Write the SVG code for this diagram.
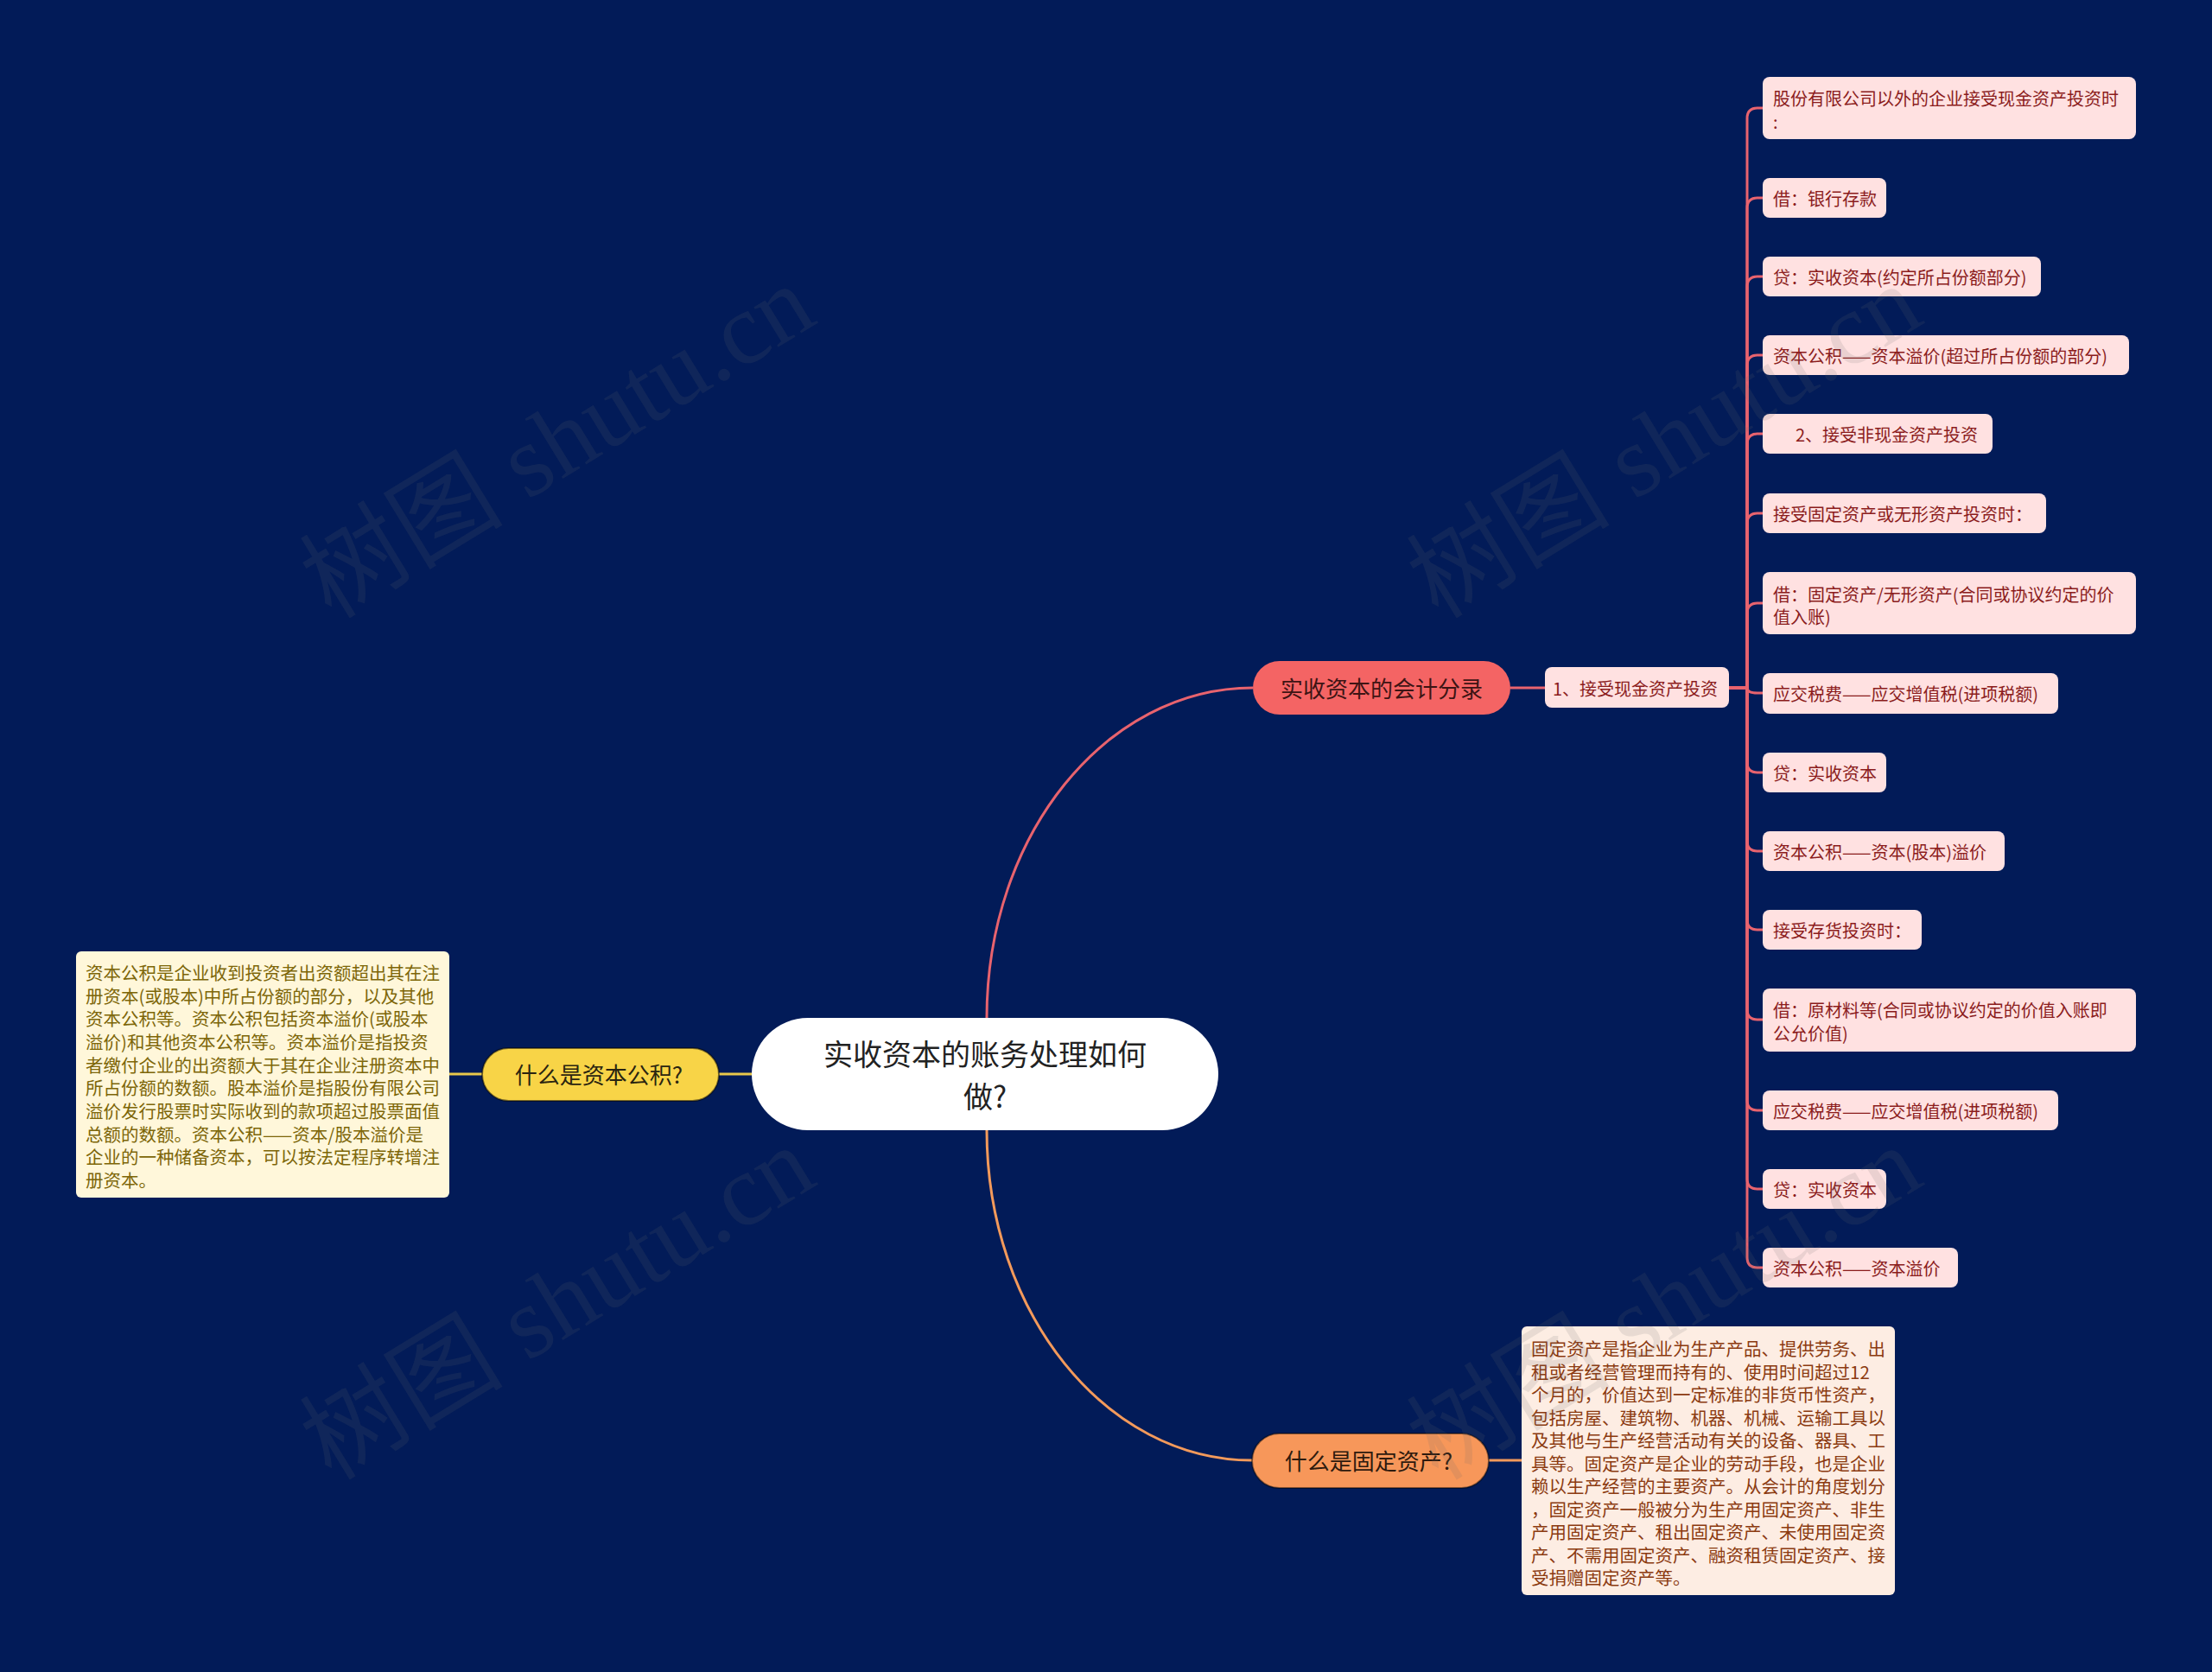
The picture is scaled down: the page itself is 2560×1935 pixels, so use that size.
<svg xmlns="http://www.w3.org/2000/svg" width="2560" height="1935" viewBox="0 0 2560 1935">
<style>
text{font-family:"Noto Sans CJK SC","Noto Sans",sans-serif;dominant-baseline:central}
.leaf rect{fill:#FFE1E1}
.leaf text{font-size:20px;fill:#8B1C1C}
.con{fill:none;stroke-width:3}
.red{stroke:#E8636E}
.org{stroke:#F39A5B}
.yel{stroke:#E9C84A}
.wm{font-family:"Liberation Serif","Noto Sans CJK SC",serif;font-size:118px;fill:#6a6a6a;fill-opacity:0.14;dominant-baseline:alphabetic}
</style>
<rect x="0" y="0" width="2560" height="1935" fill="#021B58"/>

<g id="connectors">
  <path class="con red" d="M1142,1178 C1142,966 1280,796 1450,796"/>
  <path class="con org" d="M1142,1308 C1142,1519 1280,1690 1449,1690"/>
  <path class="con yel" d="M870,1243 H832"/>
  <path class="con yel" d="M558,1243 H520"/>
  <path class="con org" d="M1723,1690 H1761"/>
  <path class="con red" d="M1748,796 H1788"/>
  <g class="con red">
    <path d="M2001,796 H2022 V137 Q2022,125 2034,125 H2040"/>
    <path d="M2001,796 H2022 V241 Q2022,229 2034,229 H2040"/>
    <path d="M2001,796 H2022 V332 Q2022,320 2034,320 H2040"/>
    <path d="M2001,796 H2022 V423 Q2022,411 2034,411 H2040"/>
    <path d="M2001,796 H2022 V514 Q2022,502 2034,502 H2040"/>
    <path d="M2001,796 H2022 V606 Q2022,594 2034,594 H2040"/>
    <path d="M2001,796 H2022 V710 Q2022,698 2034,698 H2040"/>
    <path d="M2001,796 H2022 V796 Q2022,802 2034,802 H2040"/>
    <path d="M2001,796 H2022 V882 Q2022,894 2034,894 H2040"/>
    <path d="M2001,796 H2022 V973 Q2022,985 2034,985 H2040"/>
    <path d="M2001,796 H2022 V1064 Q2022,1076 2034,1076 H2040"/>
    <path d="M2001,796 H2022 V1168 Q2022,1180 2034,1180 H2040"/>
    <path d="M2001,796 H2022 V1273 Q2022,1285 2034,1285 H2040"/>
    <path d="M2001,796 H2022 V1364 Q2022,1376 2034,1376 H2040"/>
    <path d="M2001,796 H2022 V1455 Q2022,1467 2034,1467 H2040"/>
  </g>
</g>

<g id="root">
  <rect x="870" y="1178" width="540" height="130" rx="65" fill="#FFFFFF"/>
  <text x="1140" y="1218" font-size="34" fill="#222" text-anchor="middle">实收资本的账务处理如何</text>
  <text x="1140" y="1267" font-size="34" fill="#222" text-anchor="middle">做?</text>
</g>

<g id="branch-accounting">
  <rect x="1450" y="765" width="298" height="62" rx="31" fill="#F46464"/>
  <text x="1599" y="795" font-size="26" fill="#3D1414" text-anchor="middle">实收资本的会计分录</text>
</g>

<g id="sub-cash" class="leaf">
  <rect x="1788" y="772" width="213" height="47" rx="8"/>
  <text x="1797" y="796">1、接受现金资产投资</text>
</g>

<g id="leaf1" class="leaf"><rect x="2040" y="89" width="432" height="72" rx="8"/><text x="2052" y="113">股份有限公司以外的企业接受现金资产投资时</text><text x="2052" y="140">:</text></g>
<g id="leaf2" class="leaf"><rect x="2040" y="206" width="143" height="46" rx="8"/><text x="2052" y="229">借：银行存款</text></g>
<g id="leaf3" class="leaf"><rect x="2040" y="297" width="322" height="46" rx="8"/><text x="2052" y="320">贷：实收资本(约定所占份额部分)</text></g>
<g id="leaf4" class="leaf"><rect x="2040" y="388" width="424" height="46" rx="8"/><text x="2052" y="411">资本公积——资本溢价(超过所占份额的部分)</text></g>
<g id="leaf5" class="leaf"><rect x="2040" y="479" width="266" height="46" rx="8"/><text x="2078" y="502">2、接受非现金资产投资</text></g>
<g id="leaf6" class="leaf"><rect x="2040" y="571" width="328" height="46" rx="8"/><text x="2052" y="594">接受固定资产或无形资产投资时：</text></g>
<g id="leaf7" class="leaf"><rect x="2040" y="662" width="432" height="72" rx="8"/><text x="2052" y="687">借：固定资产/无形资产(合同或协议约定的价</text><text x="2052" y="713">值入账)</text></g>
<g id="leaf8" class="leaf"><rect x="2040" y="779" width="342" height="47" rx="8"/><text x="2052" y="802">应交税费——应交增值税(进项税额)</text></g>
<g id="leaf9" class="leaf"><rect x="2040" y="871" width="143" height="46" rx="8"/><text x="2052" y="894">贷：实收资本</text></g>
<g id="leaf10" class="leaf"><rect x="2040" y="962" width="280" height="46" rx="8"/><text x="2052" y="985">资本公积——资本(股本)溢价</text></g>
<g id="leaf11" class="leaf"><rect x="2040" y="1053" width="184" height="46" rx="8"/><text x="2052" y="1076">接受存货投资时：</text></g>
<g id="leaf12" class="leaf"><rect x="2040" y="1144" width="432" height="73" rx="8"/><text x="2052" y="1168">借：原材料等(合同或协议约定的价值入账即</text><text x="2052" y="1195">公允价值)</text></g>
<g id="leaf13" class="leaf"><rect x="2040" y="1262" width="342" height="46" rx="8"/><text x="2052" y="1285">应交税费——应交增值税(进项税额)</text></g>
<g id="leaf14" class="leaf"><rect x="2040" y="1353" width="143" height="46" rx="8"/><text x="2052" y="1376">贷：实收资本</text></g>
<g id="leaf15" class="leaf"><rect x="2040" y="1444" width="226" height="46" rx="8"/><text x="2052" y="1467">资本公积——资本溢价</text></g>

<g id="branch-capital-reserve">
  <rect x="558" y="1213" width="274" height="61" rx="30.5" fill="#F8D447" stroke="#000" stroke-opacity="0.5" stroke-width="2"/>
  <text x="693" y="1242" font-size="26" fill="#2A2410" text-anchor="middle">什么是资本公积?</text>
</g>

<g id="note-capital-reserve">
  <rect x="88" y="1101" width="432" height="285" rx="6" fill="#FFF7DA"/>
  <g font-size="20.5" fill="#7D6608">
    <text x="99" y="1125">资本公积是企业收到投资者出资额超出其在注</text>
    <text x="99" y="1151.7">册资本(或股本)中所占份额的部分，以及其他</text>
    <text x="99" y="1178.3">资本公积等。资本公积包括资本溢价(或股本</text>
    <text x="99" y="1205">溢价)和其他资本公积等。资本溢价是指投资</text>
    <text x="99" y="1231.7">者缴付企业的出资额大于其在企业注册资本中</text>
    <text x="99" y="1258.3">所占份额的数额。股本溢价是指股份有限公司</text>
    <text x="99" y="1285">溢价发行股票时实际收到的款项超过股票面值</text>
    <text x="99" y="1311.7">总额的数额。资本公积——资本/股本溢价是</text>
    <text x="99" y="1338.3">企业的一种储备资本，可以按法定程序转增注</text>
    <text x="99" y="1365">册资本。</text>
  </g>
</g>

<g id="branch-fixed-asset">
  <rect x="1449" y="1659" width="274" height="63" rx="31.5" fill="#F7975A" stroke="#000" stroke-opacity="0.45" stroke-width="2"/>
  <text x="1584" y="1689" font-size="26" fill="#2E1A0E" text-anchor="middle">什么是固定资产?</text>
</g>

<g id="note-fixed-asset">
  <rect x="1761" y="1535" width="432" height="311" rx="6" fill="#FDEDE3"/>
  <g font-size="20.5" fill="#8B3A10">
    <text x="1772" y="1560">固定资产是指企业为生产产品、提供劳务、出</text>
    <text x="1772" y="1586.5">租或者经营管理而持有的、使用时间超过12</text>
    <text x="1772" y="1613">个月的，价值达到一定标准的非货币性资产，</text>
    <text x="1772" y="1639.5">包括房屋、建筑物、机器、机械、运输工具以</text>
    <text x="1772" y="1666">及其他与生产经营活动有关的设备、器具、工</text>
    <text x="1772" y="1692.5">具等。固定资产是企业的劳动手段，也是企业</text>
    <text x="1772" y="1719">赖以生产经营的主要资产。从会计的角度划分</text>
    <text x="1772" y="1745.5">，固定资产一般被分为生产用固定资产、非生</text>
    <text x="1772" y="1772">产用固定资产、租出固定资产、未使用固定资</text>
    <text x="1772" y="1798.5">产、不需用固定资产、融资租赁固定资产、接</text>
    <text x="1772" y="1825">受捐赠固定资产等。</text>
  </g>
</g>

<g id="watermarks">
  <text class="wm" text-anchor="middle" transform="translate(666,545) rotate(-31.4)">树图 shutu.cn</text>
  <text class="wm" text-anchor="middle" transform="translate(1947,545) rotate(-31.4)">树图 shutu.cn</text>
  <text class="wm" text-anchor="middle" transform="translate(666,1542) rotate(-31.4)">树图 shutu.cn</text>
  <text class="wm" text-anchor="middle" transform="translate(1947,1542) rotate(-31.4)">树图 shutu.cn</text>
</g>
</svg>
